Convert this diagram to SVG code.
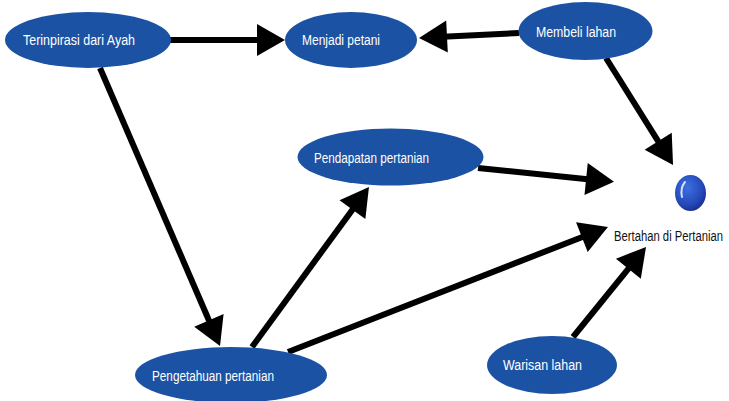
<svg xmlns="http://www.w3.org/2000/svg" width="729" height="401" viewBox="0 0 729 401">
<style>
.node{fill:#1c52a4}
.lbl{font-family:"Liberation Sans",Arial,sans-serif;font-size:15.5px;fill:#fff}
.dark{fill:#111}
.conn line{stroke:#000;stroke-width:6;marker-end:url(#ah)}
</style>
<defs>
<marker id="ah" markerUnits="userSpaceOnUse" markerWidth="28" markerHeight="32" refX="4" refY="16" orient="auto" overflow="visible">
<path d="M0,0 L28,16 L0,32 z" fill="#000"/>
</marker>
<radialGradient id="sph" cx="0.4" cy="0.35" r="0.7">
<stop offset="0" stop-color="#3f6fe0"/>
<stop offset="0.7" stop-color="#2448b8"/>
<stop offset="1" stop-color="#1a2a8a"/>
</radialGradient>
</defs>
<rect width="729" height="401" fill="#fff"/>
<g id="connectors" class="conn">
<line x1="170" y1="40" x2="261" y2="40"/>
<line x1="519" y1="33" x2="443" y2="36.8"/>
<line x1="606" y1="58" x2="660.3" y2="144.6"/>
<line x1="100" y1="68" x2="210.5" y2="324"/>
<line x1="252" y1="347" x2="354.8" y2="206.4"/>
<line x1="478" y1="168" x2="590.1" y2="179.4"/>
<line x1="288" y1="352" x2="585.6" y2="235.7"/>
<line x1="573" y1="337" x2="630.9" y2="265.6"/>
</g>
<g id="terinpirasi">
<ellipse class="node" cx="88" cy="40" rx="83" ry="28"/>
<text class="lbl" x="23" y="45" textLength="112" lengthAdjust="spacingAndGlyphs">Terinpirasi dari Ayah</text>
</g>
<g id="menjadi">
<ellipse class="node" cx="351" cy="40" rx="66" ry="28"/>
<text class="lbl" x="302" y="45" textLength="78" lengthAdjust="spacingAndGlyphs">Menjadi petani</text>
</g>
<g id="membeli">
<ellipse class="node" cx="585.5" cy="31" rx="67" ry="29"/>
<text class="lbl" x="536" y="37" textLength="80" lengthAdjust="spacingAndGlyphs">Membeli lahan</text>
</g>
<g id="pendapatan">
<ellipse class="node" cx="390.5" cy="157" rx="93" ry="28.5"/>
<text class="lbl" x="314" y="163" textLength="115" lengthAdjust="spacingAndGlyphs">Pendapatan pertanian</text>
</g>
<g id="pengetahuan">
<ellipse class="node" cx="231" cy="375" rx="96" ry="28"/>
<text class="lbl" x="152" y="381" textLength="122" lengthAdjust="spacingAndGlyphs">Pengetahuan pertanian</text>
</g>
<g id="warisan">
<ellipse class="node" cx="552" cy="365" rx="65" ry="29"/>
<text class="lbl" x="503" y="370" textLength="79" lengthAdjust="spacingAndGlyphs">Warisan lahan</text>
</g>
<g id="bertahan">
<ellipse cx="690.5" cy="193" rx="15.5" ry="18" fill="url(#sph)"/>
<path d="M682,197 Q680,188 685,182" fill="none" stroke="#cfe0ff" stroke-width="2" stroke-linecap="round"/>
<text class="lbl dark" x="614" y="241" textLength="109" lengthAdjust="spacingAndGlyphs">Bertahan di Pertanian</text>
</g>
</svg>
